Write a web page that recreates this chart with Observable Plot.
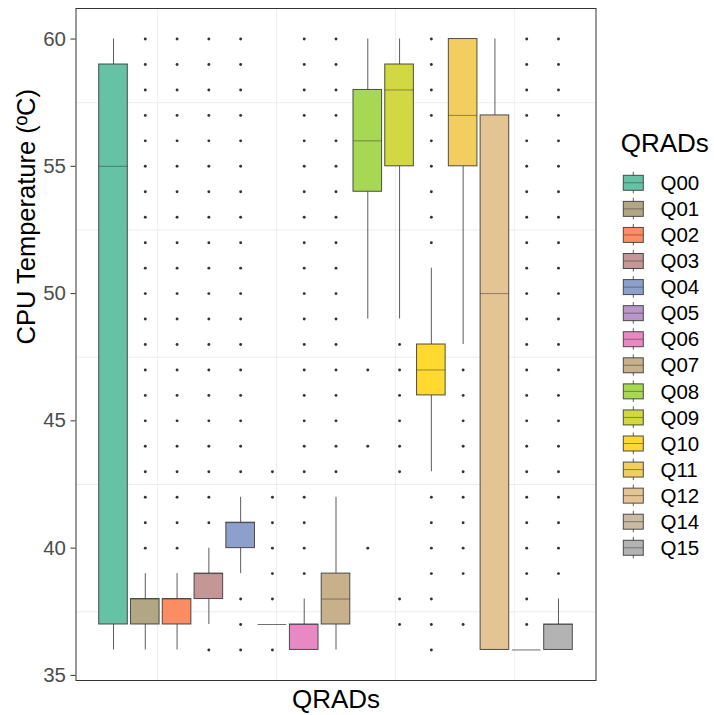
<!DOCTYPE html>
<html><head><meta charset="utf-8">
<script src="https://cdn.jsdelivr.net/npm/d3@7"></script>
<script src="https://cdn.jsdelivr.net/npm/@observablehq/plot@0.6"></script>
<style>
body{margin:0;background:#fff;font-family:"Liberation Sans",Arial,Helvetica,sans-serif;}
#wrap{position:relative;width:714px;height:715px;}
#legend{position:absolute;left:600px;top:120px;}
</style></head><body><div id="wrap"></div>
<script>
// ---- data ----
const groups = ["Q00","Q01","Q02","Q03","Q04","Q05","Q06","Q07","Q08","Q09","Q10","Q11","Q12","Q14","Q15"];
const colors = ["#66C2A5","#B1A783","#FC8D62","#C49696","#8DA0CB","#BA95C7","#E78AC3","#C6B18B","#A6D854","#D2D841","#FFD92F","#F2CE61","#E5C494","#CCBBA3","#B3B3B3"];
const whiskerLow  = [36,36,36,37,39,37,36,36,49,49,43,48,36,36,36];
const q1          = [37,37,37,38,40,37,36,37,54,55,46,55,36,36,36];
const median      = [55,38,38,39,41,37,37,38,56,58,47,57,50,36,37];
const q3          = [59,38,38,39,41,37,37,39,58,59,48,60,57,36,37];
const whiskerHigh = [60,39,39,40,42,37,38,42,60,60,51,60,60,36,38];
const outliers = [
  [],
  [40,41,42,43,44,45,46,47,48,49,50,51,52,53,54,55,56,57,58,59,60],
  [40,41,42,43,44,45,46,47,48,49,50,51,52,53,54,55,56,57,58,59,60],
  [36,41,42,43,44,45,46,47,48,49,50,51,52,53,54,55,56,57,58,59,60],
  [36,37,38,43,44,45,46,47,48,49,50,51,52,53,54,55,56,57,58,59,60],
  [36,38,39,40,41,42,43],
  [39,40,41,42,43,44,45,46,47,48,49,50,51,52,53,54,55,56,57,58,59,60],
  [43,44,45,46,47,48,49,50,51,52,53,54,55,56,57,58,59,60],
  [40,44,47],
  [37,38,43,44,45,46,47,48],
  [36,37,38,39,40,41,42,52,53,54,55,56,57,58,59,60],
  [37,39,40,41,42,43,44,45,46,47],
  [],
  [37,38,39,40,41,42,43,44,45,46,47,48,49,50,51,52,53,54,55,56,57,58,59,60],
  [39,40,41,42,43,44,45,46,47,48,49,50,51,52,53,54,55,56,57,58,59,60]
];
const yTicks = [35,40,45,50,55,60];
const yMinorGrid = [37.5,42.5,47.5,52.5,57.5];
const xMinorGrid = [1.39,5.13,8.87,12.61];
const legendTitle = "QRADs";
const xTitle = "QRADs";
const yTitle = "CPU Temperature (ºC)";

// ---- derived tables ----
const boxes = groups.map((g,i)=>({group:g,i,lo:whiskerLow[i],q1:q1[i],med:median[i],q3:q3[i],hi:whiskerHigh[i]}));
const pts = outliers.flatMap((vals,i)=>vals.map(v=>({group:groups[i],i,v})));
const hw = 0.45;
const ink = "#333333";

const chart = Plot.plot({
  width: 714, height: 715,
  marginLeft: 75.5, marginRight: 118.5, marginTop: 8, marginBottom: 35,
  style: {fontFamily: '"Liberation Sans", Arial, Helvetica, sans-serif', background: "#fff"},
  x: {domain: [-1.18, 15.18], axis: null},
  y: {domain: [34.8, 61.2], axis: null},
  color: {domain: groups, range: colors},
  marks: [
    Plot.ruleY(yMinorGrid, {stroke: "#EBEBEB", strokeWidth: 0.9}),
    Plot.ruleX(xMinorGrid, {stroke: "#EBEBEB", strokeWidth: 0.9}),
    Plot.dot(pts, {x: "i", y: "v", r: 1.45, fill: ink, stroke: null}),
    Plot.ruleX(boxes, {x: "i", y1: "lo", y2: "q1", stroke: ink, strokeWidth: 1, strokeOpacity: 0.8}),
    Plot.ruleX(boxes, {x: "i", y1: "q3", y2: "hi", stroke: ink, strokeWidth: 1, strokeOpacity: 0.8}),
    Plot.rect(boxes, {x1: d=>d.i-hw, x2: d=>d.i+hw, y1: "q1", y2: "q3", fill: "group", stroke: ink, strokeWidth: 1, strokeOpacity: 0.85}),
    Plot.ruleY(boxes, {y: "med", x1: d=>d.i-hw, x2: d=>d.i+hw, stroke: ink, strokeWidth: 1, strokeOpacity: d=>d.q1===d.q3?0.7:0.5}),
    Plot.frame({stroke: ink, strokeWidth: 1}),
    Plot.axisY(yTicks, {anchor: "left", tickSize: 5, tickPadding: 5, fontSize: 20.5, stroke: ink, fill: "#4D4D4D", label: null}),
    Plot.text([xTitle], {frameAnchor: "bottom", dy: 19, fontSize: 26, fill: "#000", lineAnchor: "middle"}),
    Plot.text([yTitle], {frameAnchor: "left", dx: -49.5, rotate: -90, fontSize: 25.5, fill: "#000", lineAnchor: "middle"})
  ]
});

const wrap = document.getElementById("wrap");
wrap.appendChild(chart);

// ---- legend ----
const lg = d3.select(wrap).append("svg").attr("id","legend")
  .attr("width",114).attr("height",440)
  .style("font-family",'"Liberation Sans", Arial, Helvetica, sans-serif');
lg.append("text").attr("x",20.7).attr("y",32).attr("font-size",26).attr("fill","#000").text(legendTitle);
const step = 26.07, c0 = 62.8;
groups.forEach((g,k)=>{
  const cy = c0 + k*step;
  const row = lg.append("g");
  row.append("line").attr("x1",33.3).attr("x2",33.3).attr("y1",cy-11).attr("y2",cy+10.5)
    .attr("stroke",ink).attr("stroke-opacity",0.8);
  row.append("rect").attr("x",23.3).attr("y",cy-7.5).attr("width",20).attr("height",15)
    .attr("fill",colors[k]).attr("stroke",ink).attr("stroke-opacity",0.85);
  row.append("line").attr("x1",23.3).attr("x2",43.3).attr("y1",cy).attr("y2",cy)
    .attr("stroke",ink).attr("stroke-opacity",0.5);
  row.append("text").attr("x",60.5).attr("y",cy).attr("dy","0.35em").attr("font-size",20.5).attr("fill","#000").text(g);
});
</script></body></html>
